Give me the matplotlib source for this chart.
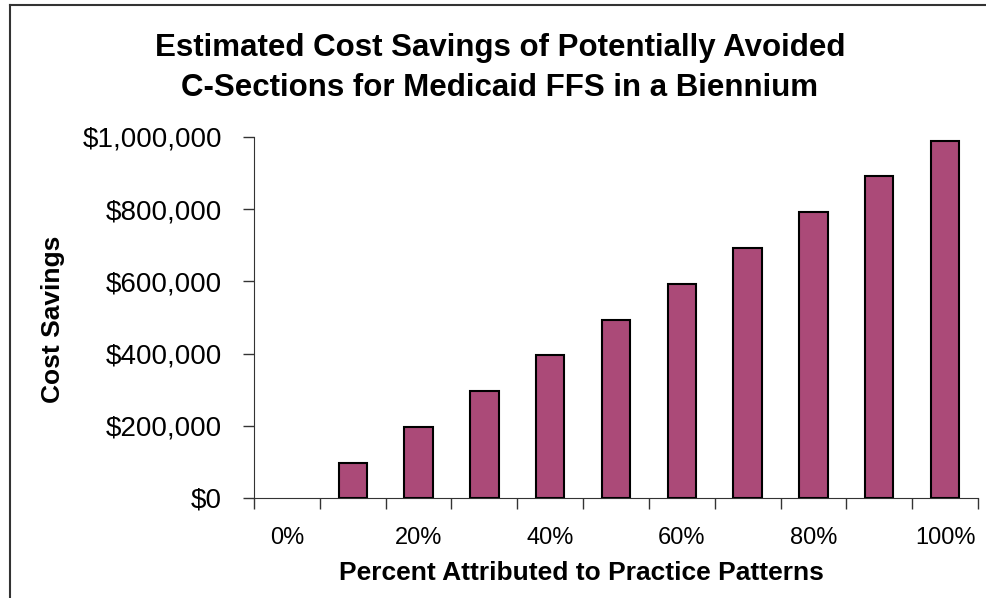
"""Estimated cost savings of potentially avoided C-sections (Medicaid FFS)."""
import matplotlib.pyplot as plt
from matplotlib.lines import Line2D
from matplotlib.ticker import FuncFormatter, MultipleLocator
import numpy as np

plt.rcParams['font.family'] = ['Liberation Sans', 'DejaVu Sans']

percents = ["0%", "10%", "20%", "30%", "40%", "50%", "60%", "70%", "80%", "90%", "100%"]
savings = [0, 98000, 196000, 297000, 396000, 494000, 593000, 692000, 792000, 891000, 990000]

W, H = 987, 598
fig = plt.figure(figsize=(W / 100, H / 100), dpi=100)
ax = fig.add_axes([254 / W, 1 - 498 / H, (978 - 254) / W, (498 - 137) / H])

x = np.arange(len(percents))
# zero-height bars get no outline so nothing shows at 0%
lws = [1.5 if v > 0 else 0 for v in savings]
ax.bar(x, savings, width=0.43, color="#ab4a78", edgecolor="black", linewidth=lws, zorder=3)

ax.set_xlim(-0.5, len(percents) - 0.5)
ax.set_ylim(0, 1_000_000)

# x ticks sit on category boundaries, labels only on every other category
ax.set_xticks(np.arange(-0.5, len(percents), 1.0))
ax.set_xticklabels([])
ax.set_xticks(x[::2], minor=True)
ax.set_xticklabels(percents[::2], minor=True, fontsize=17)
ax.tick_params(axis="x", which="major", direction="out", length=8, width=1, color="#333333")
ax.tick_params(axis="x", which="minor", length=0, pad=21)

ax.yaxis.set_major_locator(MultipleLocator(200_000))
ax.yaxis.set_major_formatter(FuncFormatter(lambda v, p: f"${v:,.0f}"))
ax.tick_params(axis="y", direction="out", length=8, width=1, labelsize=20, color="#333333", pad=15)

for s in ["top", "right"]:
    ax.spines[s].set_visible(False)
ax.spines["left"].set_color("#333333")
ax.spines["bottom"].set_color("#333333")

ax.set_xlabel("Percent Attributed to Practice Patterns", fontsize=19, fontweight="bold")
ax.xaxis.set_label_coords((581 - 254) / (978 - 254), -(573 - 498) / (498 - 137))
ax.xaxis.label.set_va("center")
ax.set_ylabel("Cost Savings", fontsize=19, fontweight="bold")
ax.yaxis.set_label_coords(-(254 - 53) / (978 - 254), (498 - 319) / (498 - 137))
ax.yaxis.label.set_va("center")

fig.text(500 / W, 1 - 68 / H, "Estimated Cost Savings of Potentially Avoided\nC-Sections for Medicaid FFS in a Biennium",
         ha="center", va="center", fontsize=22.5, fontweight="bold", linespacing=1.45)

# chart frame (only top and left edges are visible in the image)
fig.add_artist(Line2D([10 / W, 1], [1 - 5 / H, 1 - 5 / H], color="#333333", lw=1.5))
fig.add_artist(Line2D([10 / W, 10 / W], [0, 1 - 5 / H], color="#333333", lw=1.5))

fig.savefig("out.png", dpi=100)
